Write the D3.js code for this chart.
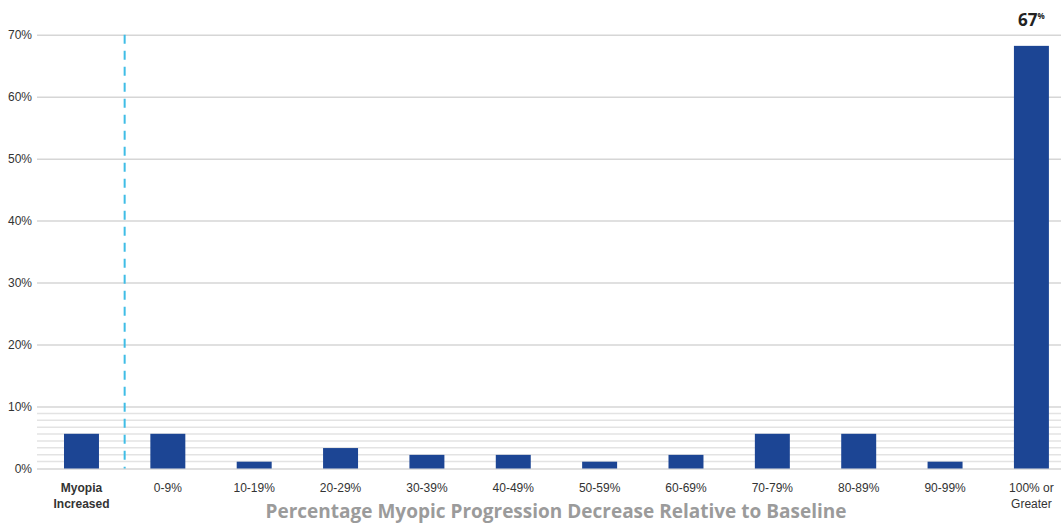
<!DOCTYPE html>
<html lang="en">
<head>
  <meta charset="UTF-8">
  <title>Myopic Progression Decrease</title>
  <style>
    body { margin: 0; background: #fff; }
    svg { display: block; font-family: 'Liberation Sans', Arial, sans-serif; }
  </style>
  <script src="https://d3js.org/d3.v7.min.js"></script>
</head>
<body>
  <div id="chart"></div>
  <script>
    const categories = ["Myopia Increased", "0-9%", "10-19%", "20-29%", "30-39%", "40-49%",
      "50-59%", "60-69%", "70-79%", "80-89%", "90-99%", "100% or Greater"];
    const values = [5.6, 5.6, 1.1, 3.3, 2.2, 2.2, 1.1, 2.2, 5.6, 5.6, 1.1, 68.2];
    const majorTicks = [0, 10, 20, 30, 40, 50, 60, 70];
    const minorTicks = [1.11, 2.22, 3.33, 4.44, 5.56, 6.67, 7.78, 8.89];
    const topLabel = "67";

    const width = 1061, height = 525;
    const svg = d3.select("#chart").append("svg")
      .attr("width", width)
      .attr("height", height);

    const y = d3.scaleLinear().domain([0, 70]).range([468.5, 34.7]);
    const x = d3.scaleBand()
      .domain(categories)
      .range([38.3, 1074.6])
      .paddingInner(0.595)
      .paddingOuter(0.2975);

    // grid
    svg.append("g").selectAll("line.minor")
      .data(minorTicks)
      .join("line")
      .attr("x1", 37).attr("x2", width)
      .attr("y1", d => y(d)).attr("y2", d => y(d))
      .attr("stroke", "#e3e3e3")
      .attr("stroke-width", 1.5);

    const yAxis = svg.append("g")
      .attr("transform", "translate(37,0)")
      .call(d3.axisLeft(y).tickValues(majorTicks).tickSize(-(width - 37)).tickFormat(d => d + "%"));
    yAxis.select(".domain").remove();
    yAxis.selectAll(".tick line").attr("stroke", "#d6d6d6").attr("stroke-width", 1.5);
    yAxis.selectAll(".tick text")
      .attr("x", -5)
      .attr("fill", "#333")
      .style("font-size", "12px")
      .style("font-family", "'Liberation Sans', Arial, sans-serif");

    // dashed divider
    const divX = (x(categories[0]) + x(categories[1]) + x.bandwidth()) / 2;
    svg.append("line")
      .attr("x1", divX).attr("x2", divX)
      .attr("y1", y(70)).attr("y2", y(0))
      .attr("stroke", "#3fbde6")
      .attr("stroke-width", 2)
      .attr("stroke-dasharray", "9,7");

    // bars
    svg.append("g").selectAll("rect")
      .data(values)
      .join("rect")
      .attr("x", (d, i) => x(categories[i]))
      .attr("width", x.bandwidth())
      .attr("y", d => y(d))
      .attr("height", d => y(0) - y(d))
      .attr("fill", "#1c4594");

    // x labels
    const xl = svg.append("g").selectAll("text")
      .data(categories)
      .join("text")
      .attr("text-anchor", "middle")
      .attr("fill", "#333")
      .style("font-size", "12px")
      .style("font-weight", (d, i) => i === 0 ? "bold" : "normal")
      .attr("transform", d => `translate(${x(d) + x.bandwidth() / 2},492)`);
    xl.each(function(d) {
      const t = d3.select(this);
      let lines = [d];
      if (d === "Myopia Increased") lines = ["Myopia", "Increased"];
      if (d === "100% or Greater") lines = ["100% or", "Greater"];
      lines.forEach((s, k) => {
        t.append("tspan").attr("x", 0).attr("dy", k === 0 ? 0 : 15.5).text(s);
      });
    });

    // value label on last bar
    const last = categories[categories.length - 1];
    const lab = svg.append("text")
      .attr("x", x(last) + x.bandwidth() / 2)
      .attr("y", 26)
      .attr("text-anchor", "middle")
      .attr("fill", "#222")
      .style("font-family", "'Open Sans', sans-serif")
      .style("font-weight", "bold")
      .style("font-size", "17px")
      .text(topLabel);
    lab.append("tspan")
      .attr("dy", -7)
      .style("font-size", "8px")
      .text("%");

    // axis title
    svg.append("text")
      .attr("x", 556)
      .attr("y", 518)
      .attr("text-anchor", "middle")
      .attr("fill", "#9b9b9b")
      .style("font-family", "'Open Sans', sans-serif")
      .style("font-weight", "bold")
      .style("font-size", "19px")
      .text("Percentage Myopic Progression Decrease Relative to Baseline");
  </script>
</body>
</html>
